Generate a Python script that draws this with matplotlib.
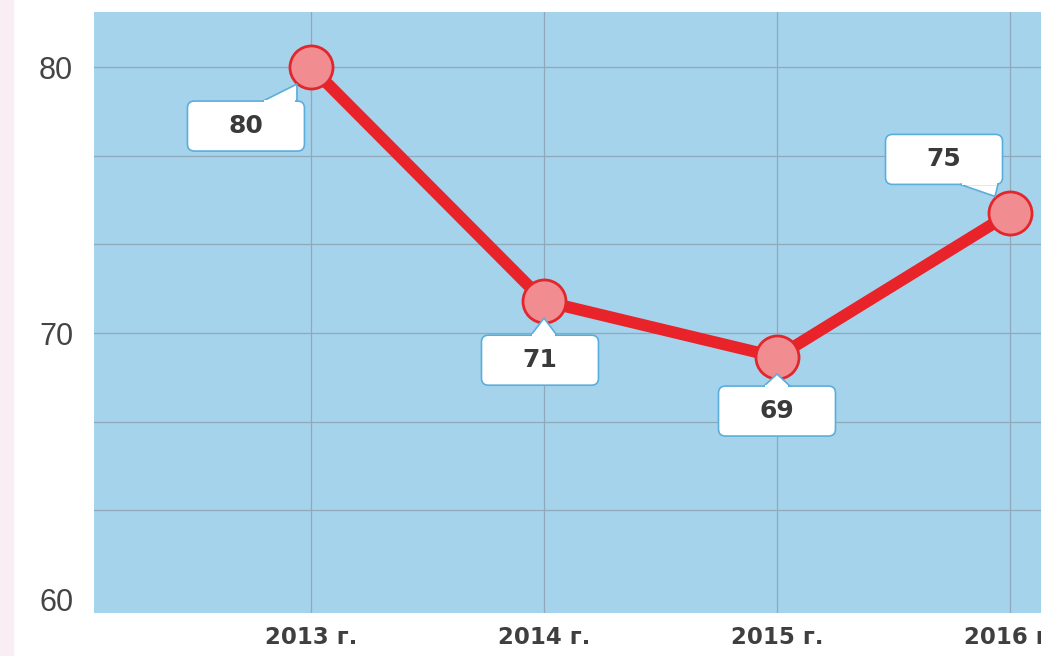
import matplotlib
matplotlib.use('Agg')
import matplotlib.pyplot as plt
from matplotlib import font_manager
from matplotlib.patches import FancyBboxPatch, Polygon, Rectangle
from matplotlib.transforms import IdentityTransform

# Chart data
years = [2013, 2014, 2015, 2016]
year_labels = ['2013 г.', '2014 г.', '2015 г.', '2016 г.']
values = [80.0, 71.2, 69.1, 74.5]
value_labels = ['80', '71', '69', '75']

# Callout placement per point: box centre offset in pixels
offsets = [(-65, -59), (-4, -59), (0, -54), (-66, 54)]

names = {f.name for f in font_manager.fontManager.ttflist}
narrow = 'Liberation Sans Narrow' if 'Liberation Sans Narrow' in names else 'Liberation Sans'

W, H, DPI = 1041, 656, 100
fig = plt.figure(figsize=(W / DPI, H / DPI), dpi=DPI, facecolor='white')
# faint pink strip on the left edge of the slide
fig.patches.append(Rectangle((0, 0), 13 / W, 1, transform=fig.transFigure,
                             color='#f8eef4', zorder=0))

ax = fig.add_axes([94 / W, (H - 613) / H, (W - 94) / W, 601 / H])
ax.set_facecolor('#a6d3ec')
ax.set_xlim(2012.069, 2016.133)
ax.set_ylim(59.48, 82.07)

for s in ax.spines.values():
    s.set_visible(False)

grid_c = '#8fa9bb'
for y in [63.333, 66.667, 70, 73.333, 76.667, 80]:
    ax.axhline(y, color=grid_c, lw=0.9, zorder=1)
for x in years:
    ax.axvline(x, color=grid_c, lw=0.9, zorder=1)

ax.set_yticks([60, 70, 80])
ax.set_yticklabels(['60', '70', '80'], fontfamily=narrow, fontsize=22, color='#444444')
ax.set_xticks(years)
ax.set_xticklabels(year_labels, fontfamily='DejaVu Sans', fontweight='bold',
                   fontsize=16.5, color='#3f3f3f')
ax.tick_params(axis='y', length=0, pad=15)
ax.tick_params(axis='x', length=0, pad=9)

ax.plot(years, values, color='#e8232a', lw=8.5, solid_capstyle='round', zorder=3)
ax.plot(years, values, 'o', ms=31, mfc='#f18c90', mec='#e3262c', mew=2, zorder=4)

# callouts drawn in pixel space
edge = '#5aaedb'
bw, bh = 117, 50
for x, v, lab, (dx, dy) in zip(years, values, value_labels, offsets):
    px, py = ax.transData.transform((x, v))
    cx, cy = px + dx, py + dy
    box = FancyBboxPatch((cx - bw / 2, cy - bh / 2), bw, bh,
                         boxstyle='round,pad=0,rounding_size=7',
                         fc='white', ec=edge, lw=1.2, transform=IdentityTransform(),
                         zorder=5, clip_on=False)
    fig.patches.append(box)
    if dy < 0:
        edge_y = cy + bh / 2
        tip_y = py - 17
    else:
        edge_y = cy - bh / 2
        tip_y = py + 17
    if abs(dx) > 30:
        if dy > 0:
            base = [(px - 50, edge_y), (px - 12, edge_y)]
            tip = (px - 15, tip_y)
        else:
            base = [(px - 48, edge_y), (px - 14, edge_y)]
            tip = (px - 14, tip_y)
    else:
        base = [(px - 13, edge_y), (px + 13, edge_y)]
        tip = (px, tip_y)
    tri = Polygon([base[0], tip, base[1]], closed=True, fc='white', ec=edge, lw=1.2,
                  transform=IdentityTransform(), zorder=6)
    fig.patches.append(tri)
    sh = 1 if dy < 0 else -1
    cover = Polygon([(base[0][0] + 1.5, edge_y - sh * 1.5), (base[0][0] + 1.5, edge_y + sh * 0.8),
                     (base[1][0] - 1.5, edge_y + sh * 0.8), (base[1][0] - 1.5, edge_y - sh * 1.5)],
                    closed=True, fc='white', ec='none', transform=IdentityTransform(), zorder=7)
    fig.patches.append(cover)
    fig.text(cx / W, cy / H, lab, ha='center', va='center', fontfamily='DejaVu Sans',
             fontweight='bold', fontsize=18, color='#3a3a3a', zorder=8)

fig.savefig('out.png', dpi=DPI, facecolor='white')
